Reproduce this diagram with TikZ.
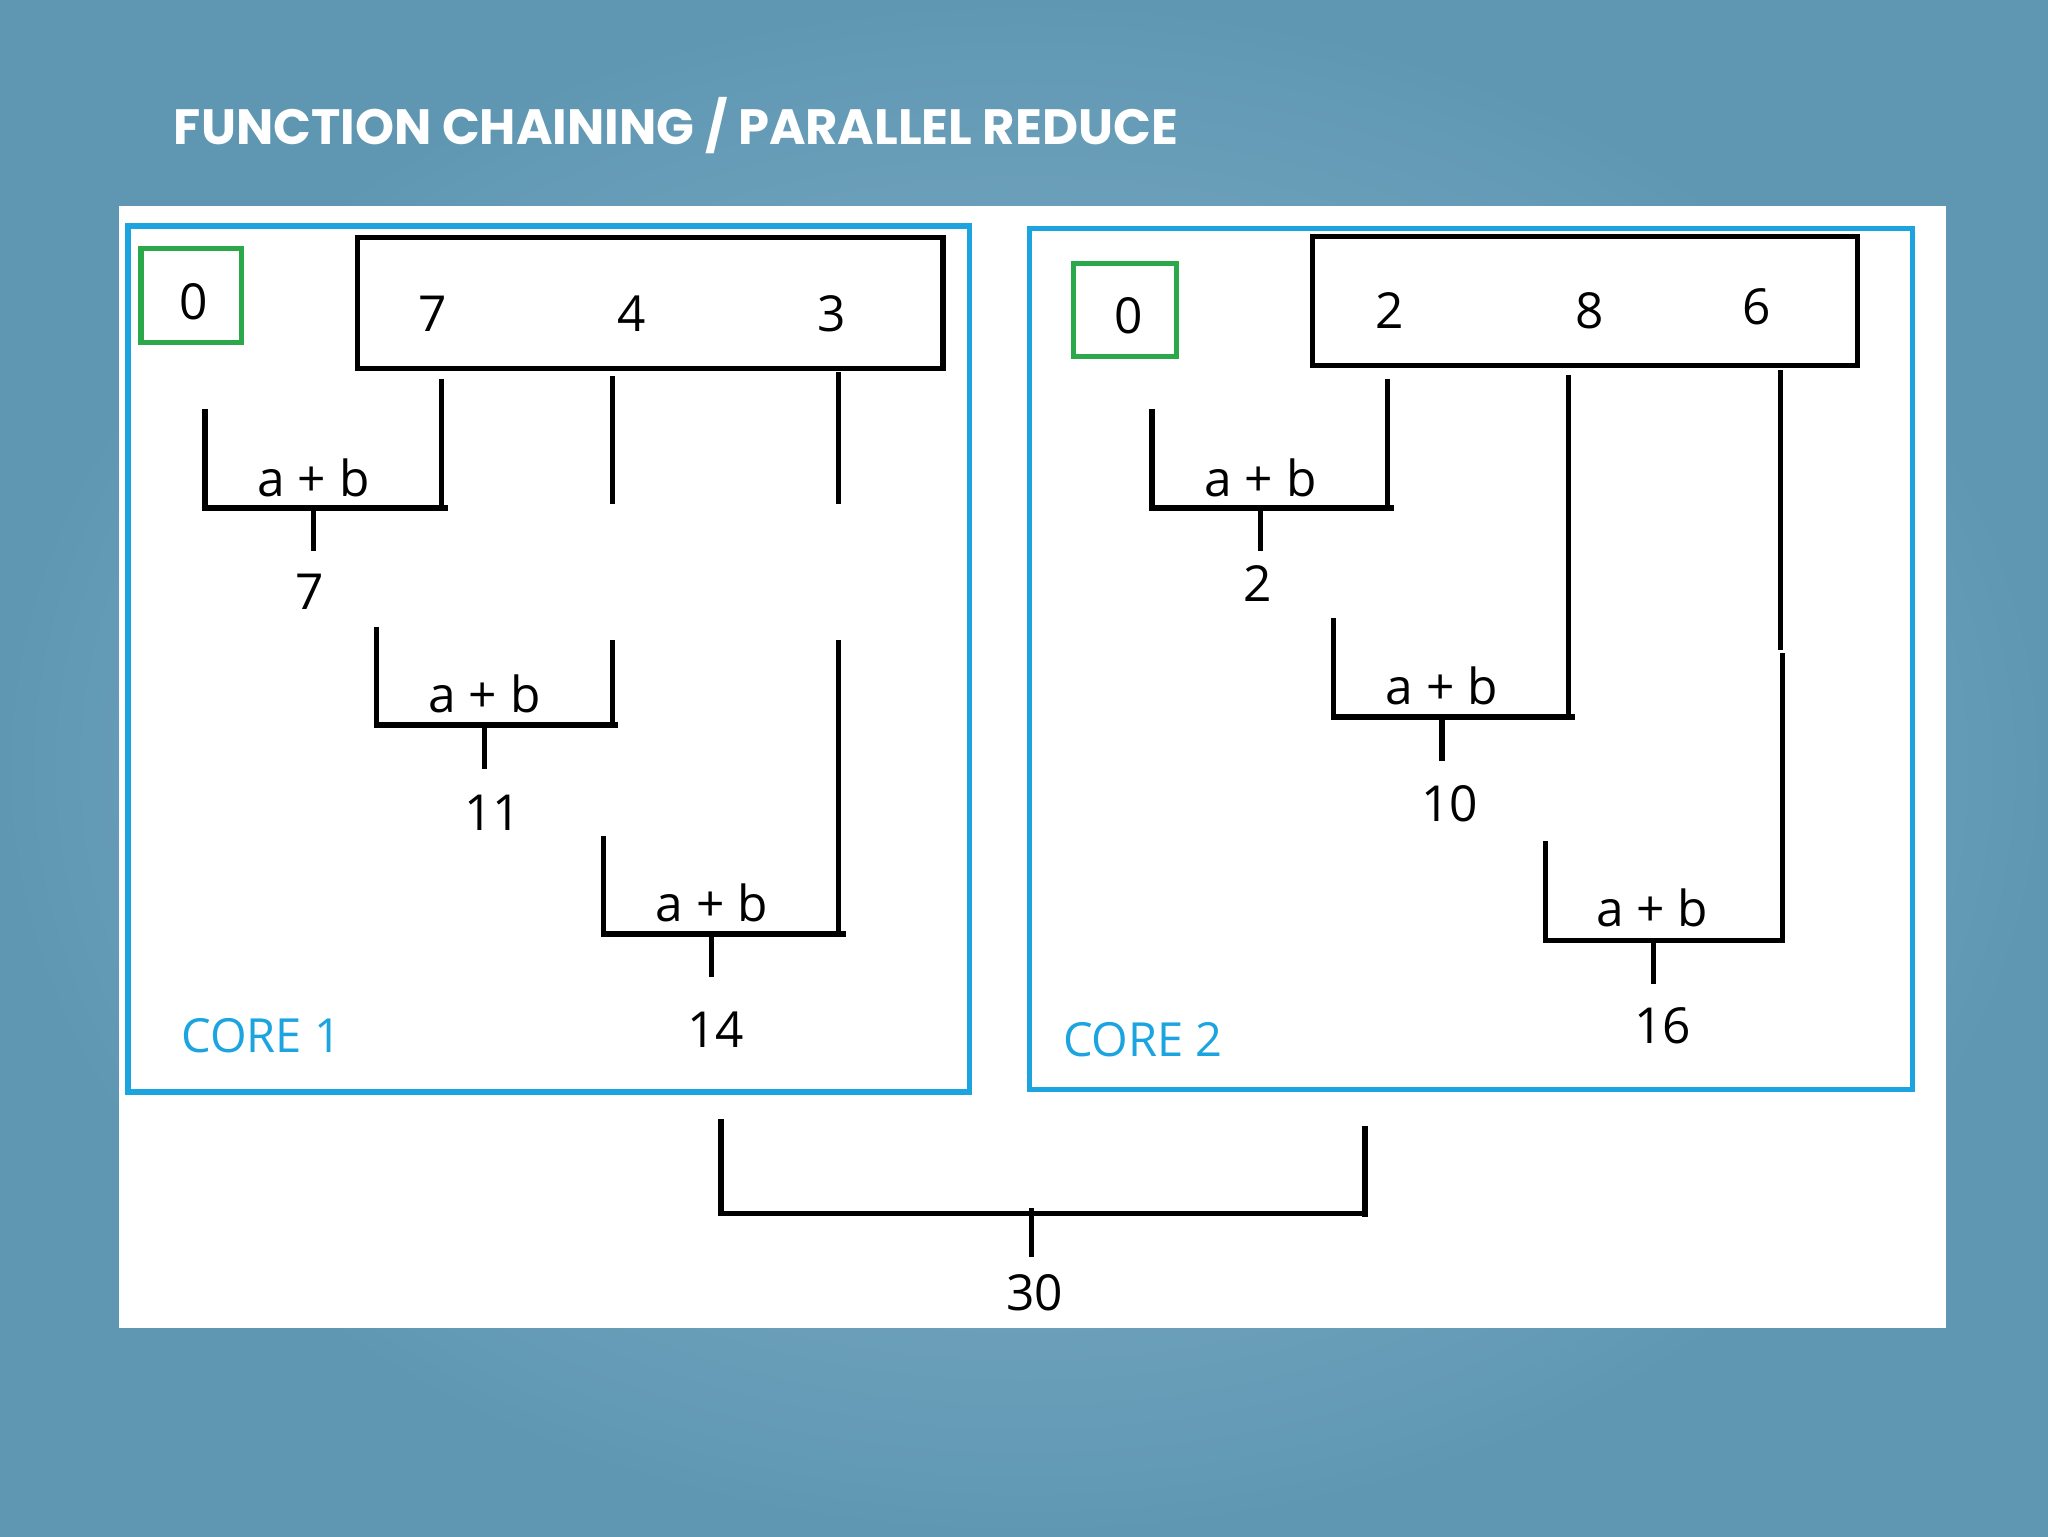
\documentclass[tikz,border=0pt]{standalone}
\usepackage{fontspec}
\setmainfont{Open Sans}
\newfontfamily\titlefont{Poppins}
\definecolor{bgedge}{HTML}{5F97B3}
\definecolor{bgmid}{HTML}{8DB7CB}
\definecolor{coreblue}{HTML}{1CA4E0}
\definecolor{grn}{HTML}{2BA84A}
\begin{document}
\begin{tikzpicture}[x=1pt,y=-1pt,
  ln/.style={line width=4pt,black},
  corebox/.style={draw=coreblue,line width=4pt},
  greenbox/.style={draw=grn,line width=4pt},
  arrbox/.style={draw=black,line width=4pt},
  num/.style={font=\fontsize{38}{40}\selectfont,inner sep=0pt},
  lbl/.style={font=\fontsize{36}{40}\selectfont,inner sep=0pt,text=coreblue}]
\useasboundingbox (0,0) rectangle (1568,1176);
\shade[inner color=bgmid,outer color=bgedge] (0,0) rectangle (1568,1176);
\node[font=\titlefont\bfseries\fontsize{38}{40}\selectfont,text=white,anchor=west,inner sep=0pt] (title) at (133,96) {FUNCTION CHAINING / PARALLEL REDUCE};
\fill[white] (91,158) rectangle (1490,1017);
% core boxes
\draw[corebox] (98,173) rectangle (742,836);
\draw[corebox] (788,175) rectangle (1464,834);
\draw[greenbox] (108,190) rectangle (185,262);
\draw[greenbox] (822,202) rectangle (901,273);
\draw[arrbox] (274,182) rectangle (722,282);
\draw[arrbox] (1005,181) rectangle (1422,280);
\node[num] (z1) at (148,231) {0};
\node[num] (z2) at (864,242) {0};
\node[num] (a7) at (331,240) {7};
\node[num] (a4) at (484,240) {4};
\node[num] (a3) at (637,240) {3};
\node[num] (b2) at (1064,238) {2};
\node[num] (b8) at (1217,238) {8};
\node[num] (b6) at (1345,235) {6};
% core 1
\draw[ln] (157,313) -- (157,389) -- (343,389);
\draw[ln] (338,290) -- (338,389);
\draw[ln] (240,389) -- (240,422);
\node[num] (p1) at (240,366) {a + b};
\node[num] (r1) at (237,453) {7};
\draw[ln] (469,288) -- (469,386);
\draw[ln] (642,285) -- (642,386);
\draw[ln] (288,480) -- (288,555) -- (473,555);
\draw[ln] (469,490) -- (469,555);
\draw[ln] (371,555) -- (371,589);
\node[num] (p2) at (371,531) {a + b};
\node[num] (r2) at (377,622) {11};
\draw[ln] (642,490) -- (642,715);
\draw[ln] (462,640) -- (462,715) -- (648,715);
\draw[ln] (545,715) -- (545,748);
\node[num] (p3) at (545,691) {a + b};
\node[num] (r3) at (548,788) {14};
\node[lbl] (c1) at (200,793) {CORE 1};
% core 2
\draw[ln] (882,313) -- (882,389) -- (1067,389);
\draw[ln] (1062,290) -- (1062,389);
\draw[ln] (965,389) -- (965,422);
\node[num] (q1) at (965,366) {a + b};
\node[num] (s1) at (963,447) {2};
\draw[ln] (1201,287) -- (1201,549);
\draw[ln] (1021,473) -- (1021,549) -- (1206,549);
\draw[ln] (1104,549) -- (1104,583);
\node[num] (q2) at (1104,525) {a + b};
\node[num] (s2) at (1110,615) {10};
\draw[ln] (1363,283) -- (1363,498);
\draw[ln] (1365,500) -- (1365,720);
\draw[ln] (1183,644) -- (1183,720) -- (1367,720);
\draw[ln] (1266,720) -- (1266,753);
\node[num] (q3) at (1265,695) {a + b};
\node[num] (s3) at (1273,785) {16};
\node[lbl] (c2) at (875,796) {CORE 2};
% final
\draw[ln] (552,857) -- (552,929) -- (1047,929);
\draw[ln] (1045,862) -- (1045,932);
\draw[ln] (790,925) -- (790,962);
\node[num] (tot) at (792,990) {30};
\end{tikzpicture}
\end{document}
